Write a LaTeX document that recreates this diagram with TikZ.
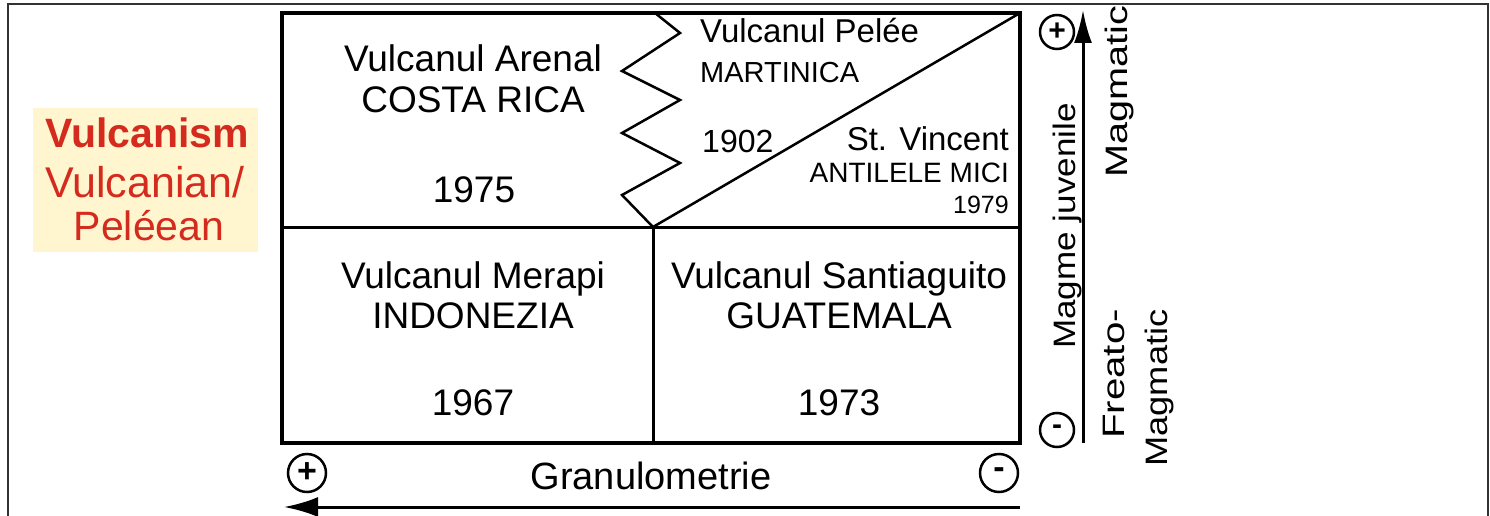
\documentclass[tikz,border=0pt]{standalone}
\usepackage{fontspec}
\setmainfont{Liberation Sans}
\usetikzlibrary{arrows.meta}
\definecolor{lavared}{RGB}{212,43,30}
\definecolor{paleyellow}{RGB}{255,246,208}
\begin{document}
\begin{tikzpicture}[x=1pt,y=-1pt]
\tikzstyle{every node}+=[inner sep=0pt]
\tikzstyle{vname}=[anchor=base, font=\fontsize{37}{44}\selectfont]
\tikzstyle{vplace}=[anchor=base, font=\fontsize{33}{36}\selectfont]
\tikzstyle{vsmall}=[anchor=base, font=\fontsize{28}{30}\selectfont]
\tikzstyle{vsign}=[draw, circle, line width=2.5, minimum size=38, font=\fontsize{34}{34}\bfseries]
\tikzstyle{vaxis}=[anchor=base, rotate=90, font=\fontsize{31}{36}\selectfont]
\useasboundingbox (0,0) rectangle (1490,516);
% outer frame
\draw [black!80, line width=2] (8,530) -- (8,4) -- (1488,4) -- (1488,530);
% title box
\fill [paleyellow] (33,108) rectangle (258,252);
\node [anchor=base, text=lavared, font=\fontsize{41}{44}\bfseries] (vulc) at (147,147) {Vulcanism};
\node [anchor=base, text=lavared, font=\fontsize{43}{44}\selectfont] (vulcan) at (145,197) {Vulcanian/};
\node [anchor=base, text=lavared, font=\fontsize{41}{44}\selectfont] (pelean) at (149,240) {Peléean};
% main box
\coordinate (nw) at (282,13);
\coordinate (se) at (1020,443);
\coordinate (ne) at (1020,13);
\coordinate (mid) at (653,227);
\draw [black, line width=3] (282,227) -- (1020,227);
\draw [black, line width=3] (mid) -- (653,443);
\draw [black, line width=2.5] (mid) -- (ne);
\draw [black, line width=2.5] (655,13) -- (680,33) -- (622,71) -- (680,100) -- (622,133) -- (680,163) -- (622,195) -- (mid);
\draw [black, line width=4] (nw) rectangle (se);
% upper left
\node [vname] (arenal) at (473,72) {Vulcanul Arenal};
\node [vname] (costa) at (473,113) {COSTA RICA};
\node [vname] (y1975) at (474,202) {1975};
% upper right
\node [vplace, anchor=base west] (pelee) at (700,43) {Vulcanul Pelée};
\node [vsmall, anchor=base west, font=\fontsize{29}{30}\selectfont] (martinica) at (700,83) {MARTINICA};
\node [vplace, anchor=base west, font=\fontsize{32}{36}\selectfont] (y1902) at (702,152) {1902};
\node [vplace, anchor=base east] (vincent) at (1009,150) {St. Vincent};
\node [vsmall, anchor=base east] (antile) at (1009,182) {ANTILELE MICI};
\node [vsmall, anchor=base east, font=\fontsize{25}{30}\selectfont] (y1979) at (1009,213) {1979};
% lower row
\node [vname] (merapi) at (473,288) {Vulcanul Merapi};
\node [vname] (indo) at (473,328) {INDONEZIA};
\node [vname] (y1967) at (473,415) {1967};
\node [vname] (santi) at (839,288) {Vulcanul Santiaguito};
\node [vname] (guat) at (839,328) {GUATEMALA};
\node [vname] (y1973) at (839,415) {1973};
% granulometrie axis
\node [vsign] (gplus) at (307,473) {+};
\node [vsign] (gminus) at (999,473) {-};
\node [vname, font=\fontsize{38}{40}\selectfont] (granu) at (651,489) {Granulometrie};
\coordinate (gstart) at (1020,507);
\coordinate (gend) at (284,507);
\draw [black, line width=3, -{Latex[length=34pt,width=20pt]}] (gstart) -- (gend);
% magma axis
\node [vsign, minimum size=34, font=\fontsize{30}{30}\bfseries] (mplus) at (1057,32) {+};
\node [vsign, minimum size=34, font=\fontsize{30}{30}\bfseries] (mminus) at (1057,430) {-};
\coordinate (mstart) at (1083,443);
\coordinate (mend) at (1083,10);
\draw [black, line width=3, -{Latex[length=33pt,width=18pt]}] (mstart) -- (mend);
\node [vaxis] (juvenile) at (1075,226) {\scalebox{1.13}[1]{Magme juvenile}};
\node [vaxis] (magmatic) at (1127,92) {\scalebox{1.28}[1]{Magmatic}};
\node [vaxis] (freato) at (1124,374) {\scalebox{1.3}[1]{Freato-}};
\node [vaxis] (freatomag) at (1167,388) {\scalebox{1.17}[1]{Magmatic}};
\end{tikzpicture}
\end{document}
